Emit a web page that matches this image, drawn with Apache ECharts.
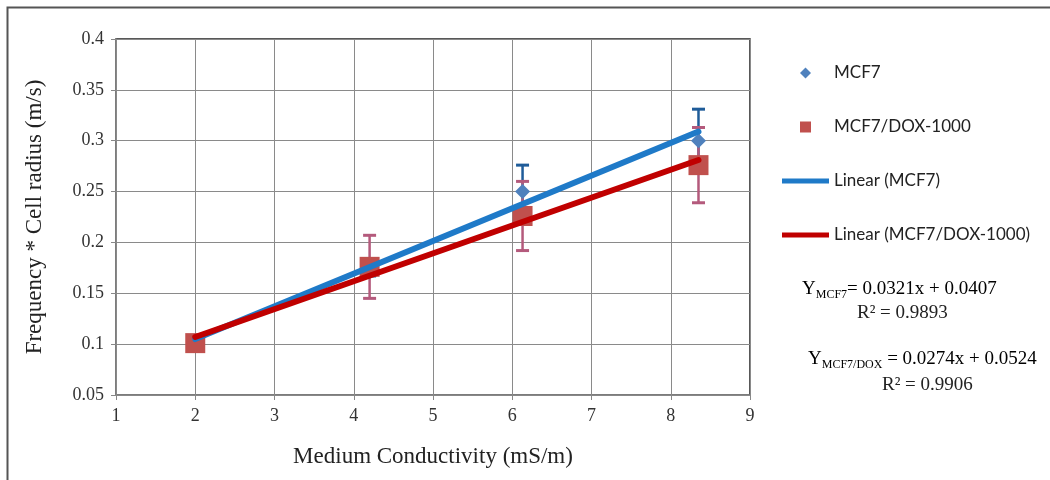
<!DOCTYPE html>
<html>
<head>
<meta charset="utf-8">
<script src="https://cdn.jsdelivr.net/npm/echarts@6/dist/echarts.min.js"></script>
<style>
  html, body { margin: 0; padding: 0; background: #fff; }
  #chart { width: 1050px; height: 480px; }
</style>
</head>
<body>
<div id="chart"></div>
<script>
// values
const conductivity = [2.0, 4.2, 6.13, 8.35];
const mcf7Values = [0.100, 0.175, 0.250, 0.300];
const mcf7Errors = [0.004, 0.008, 0.026, 0.031];
const doxValues = [0.101, 0.176, 0.226, 0.276];
const doxErrors = [0.006, 0.031, 0.034, 0.037];

// trend line end points (x, y) as drawn
const mcf7Trend = [[2.0, 0.105], [8.35, 0.309]];
const doxTrend = [[2.0, 0.107], [8.35, 0.281]];

const mcf7Eq = { slope: '0.0321', icpt: '0.0407', r2: '0.9893' };
const doxEq = { slope: '0.0274', icpt: '0.0524', r2: '0.9906' };

const serif = 'Liberation Serif';
const sans = 'Lato';

function errData(xs, ys, es) {
  return xs.map((x, i) => [x, ys[i] - es[i], ys[i] + es[i]]);
}

function errorBars(color) {
  return function (params, api) {
    const lo = api.coord([api.value(0), api.value(1)]);
    const hi = api.coord([api.value(0), api.value(2)]);
    const w = 6.5;
    return {
      type: 'group',
      children: [
        { type: 'line', shape: { x1: lo[0], y1: lo[1], x2: hi[0], y2: hi[1] }, style: { stroke: color, lineWidth: 2.5 } },
        { type: 'line', shape: { x1: lo[0] - w, y1: lo[1], x2: lo[0] + w, y2: lo[1] }, style: { stroke: color, lineWidth: 3 } },
        { type: 'line', shape: { x1: hi[0] - w, y1: hi[1], x2: hi[0] + w, y2: hi[1] }, style: { stroke: color, lineWidth: 3 } }
      ]
    };
  };
}

const chart = echarts.init(document.getElementById('chart'));

const eqRich = {
  y: { fontFamily: serif, fontSize: 19, color: '#222' },
  s: { fontFamily: serif, fontSize: 12, color: '#222', padding: [11, 0, 0, 0] },
  n: { fontFamily: serif, fontSize: 19, color: '#222' }
};

chart.setOption({
  animation: false,
  backgroundColor: '#fff',
  grid: {
    left: 116, right: 300, top: 39, bottom: 85,
    show: true, borderColor: '#222', borderWidth: 1.5
  },
  xAxis: {
    type: 'value', min: 1, max: 9, interval: 1,
    name: 'Medium Conductivity (mS/m)',
    nameLocation: 'middle', nameGap: 50,
    nameTextStyle: { fontFamily: serif, fontSize: 23, color: '#222' },
    axisLine: { lineStyle: { color: '#888', width: 1.5 } },
    axisTick: { show: true, length: 5, lineStyle: { color: '#888' } },
    axisLabel: { fontFamily: serif, fontSize: 18, color: '#333', margin: 12 },
    splitLine: { show: true, lineStyle: { color: '#8a8a8a', width: 1 } }
  },
  yAxis: {
    type: 'value', min: 0.05, max: 0.4, interval: 0.05,
    name: 'Frequency * Cell radius (m/s)',
    nameLocation: 'middle', nameGap: 70,
    nameTextStyle: { fontFamily: serif, fontSize: 23, color: '#222' },
    axisLine: { show: true, lineStyle: { color: '#888', width: 1.5 } },
    axisTick: { show: true, length: 5, lineStyle: { color: '#888' } },
    axisLabel: {
      fontFamily: serif, fontSize: 18, color: '#333', margin: 12,
      formatter: v => String(Number(v.toFixed(2)))
    },
    splitLine: { show: true, lineStyle: { color: '#8a8a8a', width: 1 } }
  },
  legend: {
    orient: 'vertical', left: 777, top: 59,
    itemWidth: 47, itemHeight: 11, itemGap: 36,
    selectedMode: false,
    textStyle: { fontFamily: sans, fontSize: 17, color: '#222', lineHeight: 18 },
    data: [
      { name: 'MCF7', icon: 'path://M5,0L10,5L5,10L0,5Z' },
      { name: 'MCF7/DOX-1000', icon: 'path://M0,0H10V10H0Z' },
      { name: 'Linear (MCF7)', icon: 'path://M0,0H47V5H0Z' },
      { name: 'Linear (MCF7/DOX-1000)', icon: 'path://M0,0H47V5H0Z' }
    ]
  },
  graphic: [
    {
      type: 'rect', left: 5, top: 5, silent: true,
      shape: { width: 1100, height: 520 },
      style: { fill: 'none', stroke: '#555', lineWidth: 2 }
    },
    {
      type: 'text', left: 802, top: 280,
      style: {
        text: '{y|Y}{s|MCF7}{n|= ' + mcf7Eq.slope + 'x + ' + mcf7Eq.icpt + '}',
        rich: eqRich
      }
    },
    {
      type: 'text', left: 857, top: 304,
      style: { text: 'R² = ' + mcf7Eq.r2, fontFamily: serif, fontSize: 19, fill: '#222' }
    },
    {
      type: 'text', left: 808, top: 350,
      style: {
        text: '{y|Y}{s|MCF7/DOX}{n| = ' + doxEq.slope + 'x + ' + doxEq.icpt + '}',
        rich: eqRich
      }
    },
    {
      type: 'text', left: 882, top: 376,
      style: { text: 'R² = ' + doxEq.r2, fontFamily: serif, fontSize: 19, fill: '#222' }
    }
  ],
  series: [
    {
      name: 'mcf7-err', type: 'custom',
      renderItem: errorBars('#1f5c99'),
      data: errData(conductivity, mcf7Values, mcf7Errors),
      encode: { x: 0, y: [1, 2] }, silent: true
    },
    {
      name: 'MCF7', type: 'scatter', symbol: 'diamond', symbolSize: 15,
      color: '#4f81bd', itemStyle: { opacity: 1 },
      data: conductivity.map((x, i) => [x, mcf7Values[i]])
    },
    {
      name: 'dox-err', type: 'custom',
      renderItem: errorBars('#b45a7c'),
      data: errData(conductivity, doxValues, doxErrors),
      encode: { x: 0, y: [1, 2] }, silent: true
    },
    {
      name: 'MCF7/DOX-1000', type: 'scatter', symbol: 'rect', symbolSize: 20,
      color: '#c0504d', itemStyle: { opacity: 1 },
      data: conductivity.map((x, i) => [x, doxValues[i]])
    },
    {
      name: 'Linear (MCF7)', type: 'line', showSymbol: false,
      color: '#1f7ac8',
      lineStyle: { width: 6, color: '#1f7ac8', cap: 'round' },
      data: mcf7Trend
    },
    {
      name: 'Linear (MCF7/DOX-1000)', type: 'line', showSymbol: false,
      color: '#c00000',
      lineStyle: { width: 6, color: '#c00000', cap: 'round' },
      data: doxTrend
    }
  ]
});
</script>
</body>
</html>
